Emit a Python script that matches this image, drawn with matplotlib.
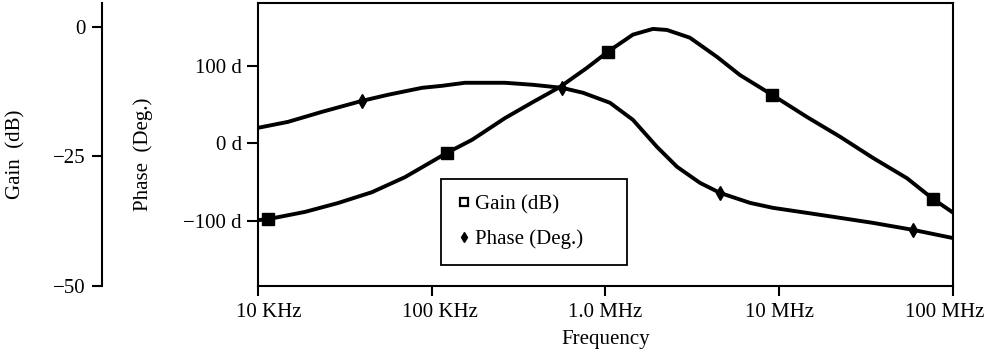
import numpy as np
import matplotlib
matplotlib.use('Agg')
import matplotlib.pyplot as plt
from matplotlib.lines import Line2D
from matplotlib.transforms import ScaledTranslation

plt.rcParams['font.family'] = ['Liberation Serif', 'DejaVu Serif']
plt.rcParams['font.size'] = 15

# Gain curve (dB) vs frequency (log10 Hz)
gain_logf = [4.0, 4.058, 4.271, 4.460, 4.656, 4.846, 5.088, 5.232, 5.422, 5.583,
             5.738, 5.894, 6.014, 6.158, 6.273, 6.354, 6.486, 6.642, 6.774, 6.958,
             7.160, 7.350, 7.540, 7.735, 7.885, 7.994]
gain_db = [-37.3, -37.1, -35.7, -34.0, -31.9, -29.0, -24.3, -21.8, -17.6, -14.5,
           -11.6, -7.9, -4.8, -1.5, -0.4, -0.6, -2.1, -5.8, -9.3, -13.1,
           -17.4, -21.2, -25.3, -29.2, -33.2, -35.7]
gain_marks = [1, 6, 12, 19, 24]

# Phase curve (deg) vs frequency (log10 Hz)
phase_logf = [4.0, 4.173, 4.368, 4.599, 4.748, 4.944, 5.059, 5.191, 5.422, 5.583,
              5.750, 5.871, 6.026, 6.158, 6.296, 6.412, 6.544, 6.659, 6.832, 6.964,
              7.160, 7.350, 7.540, 7.770, 7.994]
phase_deg = [20.0, 27.7, 40.6, 54.8, 62.6, 71.6, 74.2, 78.1, 78.1, 75.5,
             71.6, 65.2, 52.3, 30.3, -4.5, -30.3, -51.0, -63.9, -76.8, -83.2,
             -89.7, -96.1, -102.6, -111.6, -121.9]
phase_marks = [3, 10, 17, 23]

freq_ticks = [1e4, 1e5, 1e6, 1e7, 1e8]
freq_labels = ['10 KHz', '100 KHz', '1.0 MHz', '10 MHz', '100 MHz']
phase_ticks = [-100, 0, 100]
phase_labels = ['\u2212100 d', '0 d', '100 d']
gain_ticks = [-50, -25, 0]
gain_labels = ['\u221250', '\u221225', '0']

gain_f = 10 ** np.array(gain_logf)
phase_f = 10 ** np.array(phase_logf)

fig = plt.figure(figsize=(9.85, 3.53), dpi=100)
ax = fig.add_axes([0.2619, 0.1898, 0.7056, 0.8017])
ax2 = ax.twinx()

ax.plot(phase_f, phase_deg, color='black', lw=2.8, marker='d', markersize=7.5,
        markevery=phase_marks)
ax2.plot(gain_f, gain_db, color='black', lw=2.8, marker='s', markersize=8.5,
         markevery=gain_marks)

ax.set_xscale('log')
ax.set_xlim(1e4, 1e8)
ax.set_ylim(-184, 181)
ax2.set_ylim(-50, 4.6)
ax.set_xticks(freq_ticks)
ax.set_xticklabels(freq_labels)
ax.xaxis.set_minor_locator(matplotlib.ticker.NullLocator())
ax.set_yticks(phase_ticks)
ax.set_yticklabels(phase_labels)

ax2.yaxis.tick_left()
ax2.yaxis.set_label_position('left')
ax2.spines['left'].set_position(('axes', -0.2245))
for s in ['right', 'top', 'bottom']:
    ax2.spines[s].set_visible(False)
ax2.set_yticks(gain_ticks)
ax2.set_yticklabels(gain_labels)

for sp in ax.spines.values():
    sp.set_linewidth(1.5)
ax2.spines['left'].set_linewidth(1.5)

ax.tick_params(axis='y', direction='out', length=8, width=1.5, pad=3.5)
ax.tick_params(axis='x', direction='out', length=7, width=1.5, pad=5)
ax2.tick_params(axis='y', direction='out', length=7, width=1.5, pad=5)

# the reference nudges a few frequency labels sideways (after tick_params, which resets transforms)
label_shift = [11, 8, 0, 0, -8]
for lab, dx in zip(ax.get_xticklabels(), label_shift):
    lab.set_transform(lab.get_transform() + ScaledTranslation(dx / 100, 0, fig.dpi_scale_trans))

ax.set_xlabel('Frequency', labelpad=6)
ax.set_ylabel('Phase  (Deg.)')
ax2.set_ylabel('Gain  (dB)')
ax.yaxis.set_label_coords(-0.151, 0.466)
ax2.yaxis.set_label_coords(-0.335, 0.466)

handles = [
    Line2D([], [], ls='none', marker='s', markersize=6, markerfacecolor='white',
           markeredgecolor='black', markeredgewidth=1.6),
    Line2D([], [], ls='none', marker='d', markersize=5, color='black'),
]
leg = ax.legend(handles, ['Gain (dB)', 'Phase (Deg.)'], loc='upper left',
                bbox_to_anchor=(0.263, 0.067, 0.268, 0.311), mode='expand',
                borderaxespad=0, fancybox=False, framealpha=1, edgecolor='black',
                handlelength=0.7, handletextpad=0.2, borderpad=0.75, labelspacing=0.73)
leg.get_frame().set_linewidth(1.3)

fig.savefig('out.png', dpi=100)
